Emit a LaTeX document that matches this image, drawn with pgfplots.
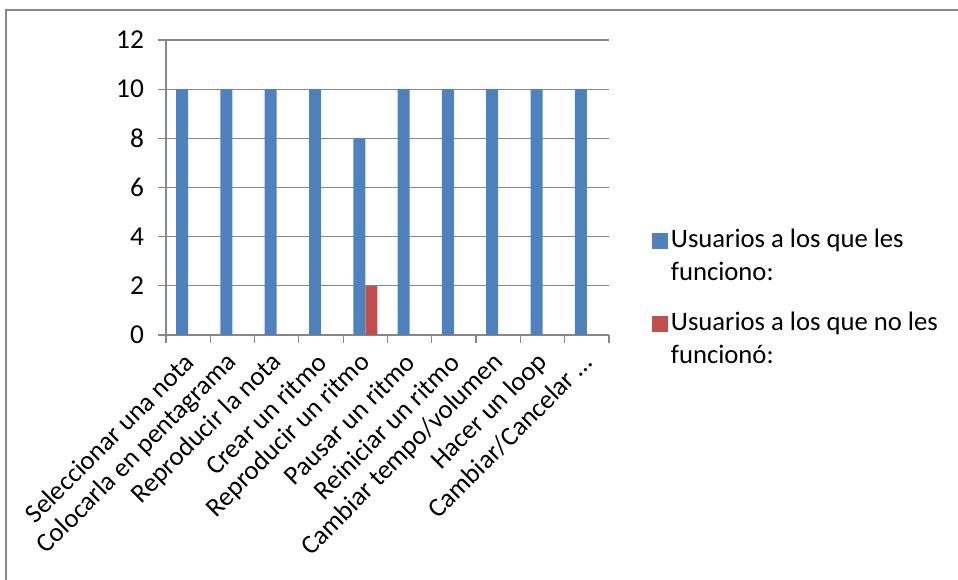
\documentclass[border=0pt]{standalone}
\usepackage{fontspec}
\setmainfont{Carlito}
\usepackage{pgfplots}
\pgfplotsset{compat=1.18}
\definecolor{cblue}{HTML}{4F81BD}
\definecolor{cred}{HTML}{C0504D}
\definecolor{cgrid}{HTML}{878787}
\begin{document}
\begin{tikzpicture}
\useasboundingbox (0,0) rectangle (718.5pt,435pt);
\draw[cgrid, line width=1.2pt] (4.5pt,-10pt) -- (4.5pt,427.5pt) -- (730pt,427.5pt);
\begin{axis}[
  at={(124.5pt,183.75pt)}, anchor=south west,
  scale only axis, width=332.25pt, height=221.25pt,
  ybar=0pt, bar width=9pt,
  xmin=-0.5, xmax=9.5, ymin=0, ymax=12,
  ytick={0,2,...,12},
  xtick={-0.5,0.5,...,9.5},
  xticklabels={},
  extra x ticks={0,1,...,9},
  extra x tick labels={Seleccionar una nota,Colocarla en pentagrama,Reproducir la nota,Crear un ritmo,Reproducir un ritmo,Pausar un ritmo,Reiniciar un ritmo,Cambiar tempo/volumen,Hacer un loop,Cambiar/Cancelar …},
  extra x tick style={major tick length=0pt, grid=none},
  major tick length=6pt,
  tick align=outside,
  axis x line*=bottom, axis y line*=left,
  ymajorgrids, grid style={cgrid, line width=0.9pt},
  axis line style={cgrid, line width=0.9pt},
  tick style={cgrid, line width=0.9pt},
  /pgf/number format/assume math mode=true,
  ticklabel style={font=\fontsize{20}{22}\selectfont, text=black},
  yticklabel style={font=\fontsize{20.5}{22}\selectfont, xshift=-7pt},
  xticklabel style={xshift=3pt, yshift=-15pt, rotate=45, anchor=east},
  legend style={at={(1.097,0.37)}, anchor=north west, draw=none, fill=none,
    cells={align=left}, row sep=18pt, inner sep=0pt,
    font=\fontsize{20}{24.75}\selectfont},
  legend cell align=left,
  legend image code/.code={\fill[#1] (0pt,5pt) rectangle (12pt,17pt);},
]
\addplot[draw=none, fill=cblue] coordinates {(0,10) (1,10) (2,10) (3,10) (4,8) (5,10) (6,10) (7,10) (8,10) (9,10)};
\addlegendentry{Usuarios a los que les\\funciono:}
\addplot[draw=none, fill=cred] coordinates {(0,0) (1,0) (2,0) (3,0) (4,2) (5,0) (6,0) (7,0) (8,0) (9,0)};
\addlegendentry{Usuarios a los que no les\\funcionó:}
\end{axis}
\end{tikzpicture}
\end{document}
